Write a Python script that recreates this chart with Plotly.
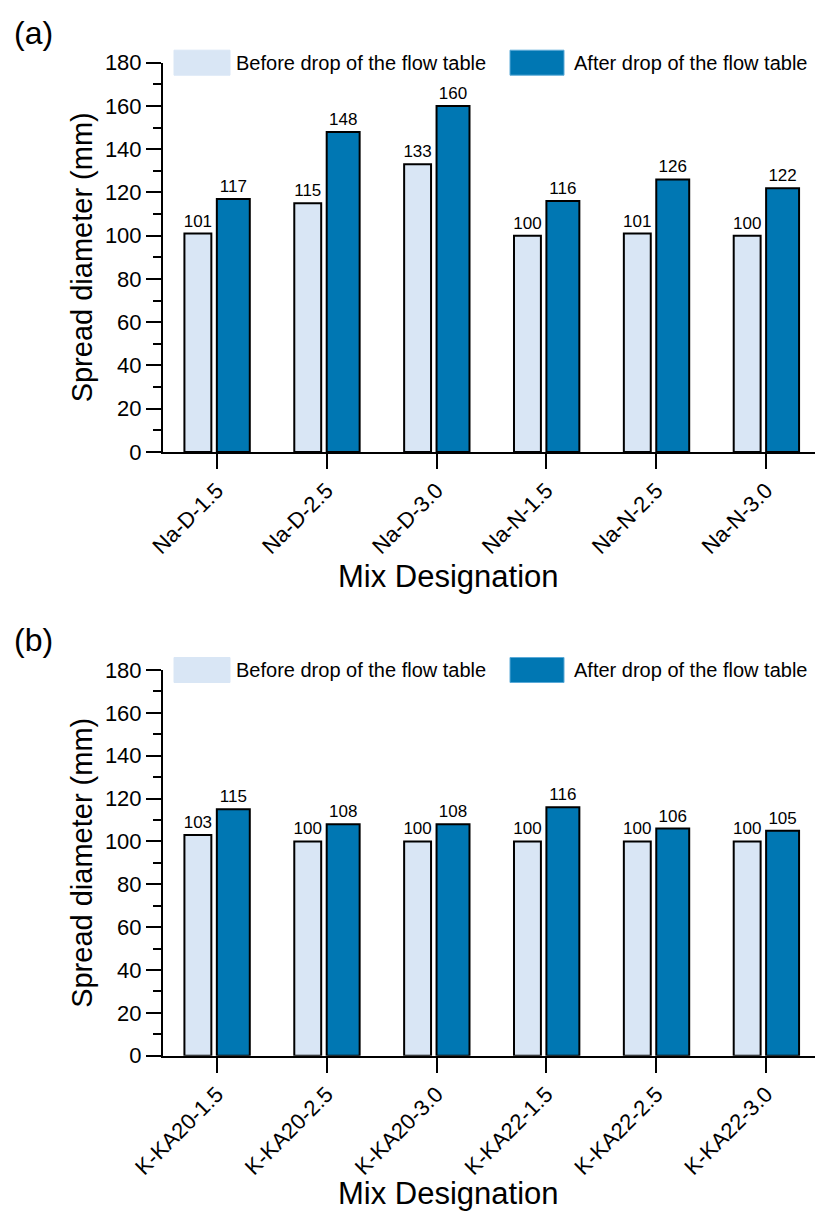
import plotly.graph_objects as go

# ---- data ----
cats_a = ["Na-D-1.5", "Na-D-2.5", "Na-D-3.0", "Na-N-1.5", "Na-N-2.5", "Na-N-3.0"]
before_a = [101, 115, 133, 100, 101, 100]
after_a = [117, 148, 160, 116, 126, 122]

cats_b = ["K-KA20-1.5", "K-KA20-2.5", "K-KA20-3.0", "K-KA22-1.5", "K-KA22-2.5", "K-KA22-3.0"]
before_b = [103, 100, 100, 100, 100, 100]
after_b = [115, 108, 108, 116, 106, 105]

series_names = ["Before drop of the flow table", "After drop of the flow table"]
y_ticks = [0, 20, 40, 60, 80, 100, 120, 140, 160, 180]

# ---- style ----
W, H = 815, 1216
ML = 163
LIGHT = "#d9e6f5"
DARK = "#0077b3"
FONT = "Liberation Sans, Arial, sans-serif"


def px_x(px):
    return (px - ML) / (W - ML)


def px_y(py):
    return 1 - py / H


fig = go.Figure()

panels = [
    ("x", "y", cats_a, before_a, after_a),
    ("x2", "y2", cats_b, before_b, after_b),
]
for xa, ya, cats, b, a in panels:
    fig.add_trace(go.Bar(
        x=cats, y=b, xaxis=xa, yaxis=ya, name=series_names[0],
        marker=dict(color=LIGHT, line=dict(color="black", width=2)),
        offset=-0.295, width=0.245,
        text=[str(v) for v in b], textposition="outside",
        textfont=dict(size=17, color="black", family=FONT),
        constraintext="none", cliponaxis=False, showlegend=False,
    ))
    fig.add_trace(go.Bar(
        x=cats, y=a, xaxis=xa, yaxis=ya, name=series_names[1],
        marker=dict(color=DARK, line=dict(color="black", width=2)),
        offset=0.0, width=0.30,
        text=[str(v) for v in a], textposition="outside",
        textfont=dict(size=17, color="black", family=FONT),
        constraintext="none", cliponaxis=False, showlegend=False,
    ))

# panel geometry in pixels (top of 180, bottom at 0)
geo = {"a": (62.7, 452.0), "b": (670.0, 1055.7)}

xaxis_common = dict(
    showline=True, linecolor="black", linewidth=2,
    ticks="outside", ticklen=15, tickwidth=2, tickcolor="black",
    tickangle=-45, tickfont=dict(size=22, color="black", family=FONT),
    showgrid=False, zeroline=False, range=[-0.49, 5.445], domain=[0, 1],
    automargin=False,
)
yaxis_common = dict(
    showline=True, linecolor="black", linewidth=2,
    ticks="outside", ticklen=15, tickwidth=2, tickcolor="black",
    tickvals=y_ticks, tickfont=dict(size=22, color="black", family=FONT),
    minor=dict(ticks="outside", ticklen=8, tickwidth=2, tickcolor="black", dtick=10),
    showgrid=False, zeroline=False, range=[0, 180], automargin=False,
)

fig.update_layout(
    width=W, height=H,
    margin=dict(l=ML, r=0, t=0, b=0, autoexpand=False),
    plot_bgcolor="white", paper_bgcolor="white",
    barmode="overlay", showlegend=False,
    font=dict(family=FONT, color="black"),
    xaxis=dict(**xaxis_common, anchor="y"),
    yaxis=dict(**yaxis_common, anchor="x",
               domain=[px_y(geo["a"][1]), px_y(geo["a"][0])]),
    xaxis2=dict(**xaxis_common, anchor="y2"),
    yaxis2=dict(**yaxis_common, anchor="x2",
                domain=[px_y(geo["b"][1]), px_y(geo["b"][0])]),
)

shapes = []
annotations = []
for key, label, xtitle_y in [("a", "(a)", 577), ("b", "(b)", 1193)]:
    top, bot = geo[key]
    # legend swatches + labels
    for (x0, x1, tx, col, edge, name) in [
        (174, 230, 234, LIGHT, LIGHT, series_names[0]),
        (510, 564, 572, DARK, "#5aaad8", series_names[1]),
    ]:
        shapes.append(dict(type="rect", xref="paper", yref="paper",
                           x0=px_x(x0), x1=px_x(x1),
                           y0=px_y(top + 12.5), y1=px_y(top - 12.5),
                           fillcolor=col, line=dict(color=edge, width=1)))
        annotations.append(dict(text=name, xref="paper", yref="paper",
                                x=px_x(tx), y=px_y(top), xanchor="left", yanchor="middle",
                                showarrow=False, font=dict(size=20, color="black", family=FONT)))
    # panel label
    annotations.append(dict(text=label, xref="paper", yref="paper",
                            x=px_x(12), y=px_y(top - 30), xanchor="left", yanchor="middle",
                            showarrow=False, font=dict(size=32, color="black", family=FONT)))
    # y title
    annotations.append(dict(text="Spread diameter (mm)", xref="paper", yref="paper",
                            x=px_x(82), y=px_y((top + bot) / 2), xanchor="center", yanchor="middle",
                            textangle=-90, showarrow=False,
                            font=dict(size=29, color="black", family=FONT)))
    # x title
    annotations.append(dict(text="Mix Designation", xref="paper", yref="paper",
                            x=px_x(448), y=px_y(xtitle_y), xanchor="center", yanchor="middle",
                            showarrow=False, font=dict(size=31, color="black", family=FONT)))

fig.update_layout(shapes=shapes, annotations=annotations)

fig.write_html(
    "out.html",
    config={"displayModeBar": False},
    post_script="document.body.style.margin='0px';document.body.style.overflow='hidden';",
)
